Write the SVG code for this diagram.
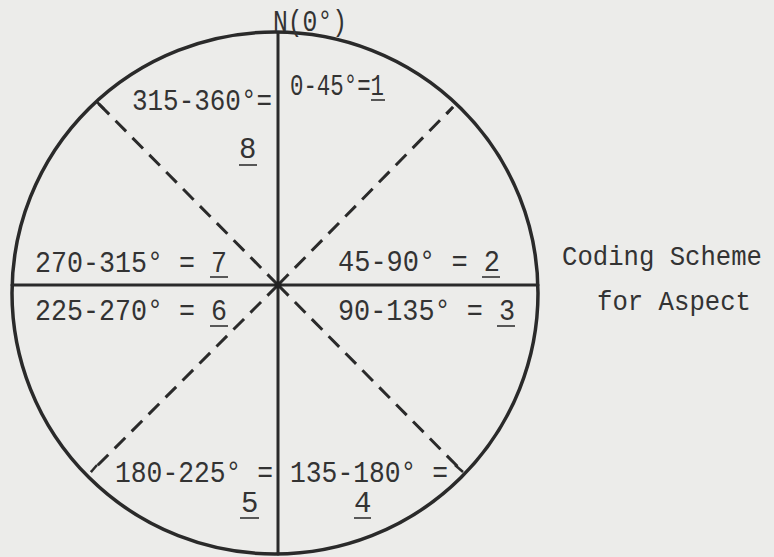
<svg xmlns="http://www.w3.org/2000/svg" width="774" height="557" viewBox="0 0 774 557">
<style>
.bg{fill:#ececea}
.ring{fill:none;stroke:#2a2a2a;stroke-width:3.5}
.axis{stroke:#2a2a2a;stroke-width:3;stroke-linecap:round}
.dash{stroke:#2a2a2a;stroke-width:3;stroke-dasharray:15 9;stroke-linecap:butt}
.tick{stroke:#2a2a2a;stroke-width:2.5}
.t{font-family:"Liberation Mono","DejaVu Sans Mono",monospace;font-size:29px;fill:#333}
.c{font-family:"Liberation Mono","DejaVu Sans Mono",monospace;font-size:27px;fill:#333}
.u{stroke:#333;stroke-width:1.6}
</style>
<rect class="bg" width="774" height="557"/>
<g id="circle">
<ellipse class="ring" cx="275" cy="293" rx="263" ry="261"/>
</g>
<g id="connectors">
<line class="axis" x1="278" y1="33" x2="278" y2="554"/>
<line class="axis" x1="12" y1="285" x2="538" y2="285"/>
<line class="dash" x1="278" y1="285" x2="453" y2="107"/>
<line class="dash" x1="278" y1="285" x2="97" y2="102"/>
<line class="dash" x1="278" y1="285" x2="463" y2="472"/>
<line class="dash" x1="278" y1="285" x2="91" y2="472"/>
<line class="tick" x1="97" y1="102" x2="104" y2="109"/>
<line class="tick" x1="463" y1="472" x2="455" y2="465"/>
<line class="tick" x1="453" y1="107" x2="447" y2="114"/>
<line class="tick" x1="91" y1="472" x2="97" y2="465"/>
<circle cx="278" cy="285" r="3.5" fill="#222"/>
</g>
<g id="north">
<text class="t" x="273" y="31" textLength="74" lengthAdjust="spacingAndGlyphs">N(0°)</text>
</g>
<g id="sector1">
<text class="t" x="290" y="95" textLength="94" lengthAdjust="spacingAndGlyphs">0-45°=1</text>
<line class="u" x1="371" y1="100" x2="385" y2="100"/>
</g>
<g id="sector8">
<text class="t" x="132" y="110" textLength="140" lengthAdjust="spacingAndGlyphs">315-360°=</text>
<text class="t" x="239" y="158">8</text>
<line class="u" x1="239" y1="165" x2="257" y2="165"/>
</g>
<g id="sector7">
<text class="t" x="35" y="272" textLength="192" lengthAdjust="spacingAndGlyphs">270-315° = 7</text>
<line class="u" x1="210" y1="277" x2="228" y2="277"/>
</g>
<g id="sector6">
<text class="t" x="35" y="320" textLength="192" lengthAdjust="spacingAndGlyphs">225-270° = 6</text>
<line class="u" x1="210" y1="326" x2="228" y2="326"/>
</g>
<g id="sector2">
<text class="t" x="338" y="271" textLength="162" lengthAdjust="spacingAndGlyphs">45-90° = 2</text>
<line class="u" x1="482" y1="277" x2="500" y2="277"/>
</g>
<g id="sector3">
<text class="t" x="338" y="320" textLength="177" lengthAdjust="spacingAndGlyphs">90-135° = 3</text>
<line class="u" x1="497" y1="326" x2="515" y2="326"/>
</g>
<g id="sector5">
<text class="t" x="115" y="482" textLength="158" lengthAdjust="spacingAndGlyphs">180-225° =</text>
<text class="t" x="241" y="512">5</text>
<line class="u" x1="240" y1="518" x2="259" y2="518"/>
</g>
<g id="sector4">
<text class="t" x="354" y="512">4</text>
<text class="t" x="290" y="482" textLength="158" lengthAdjust="spacingAndGlyphs">135-180° =</text>
<line class="u" x1="354" y1="518" x2="371" y2="518"/>
</g>
<g id="caption">
<text class="c" x="562" y="265" textLength="200" lengthAdjust="spacingAndGlyphs">Coding Scheme</text>
<text class="c" x="597" y="310" textLength="154" lengthAdjust="spacingAndGlyphs">for Aspect</text>
</g>
</svg>
